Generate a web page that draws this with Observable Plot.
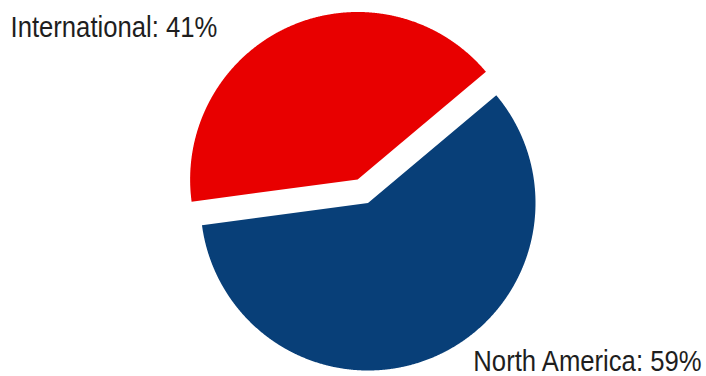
<!DOCTYPE html>
<html><head><meta charset="utf-8">
<script src="https://cdn.jsdelivr.net/npm/d3@7"></script>
<script src="https://cdn.jsdelivr.net/npm/@observablehq/plot@0.6"></script>
<style>html,body{margin:0;padding:0;background:#fff}</style>
</head><body><div id="chart"></div>
<script>
// Data
const regions = ["North America", "International"];
const shares = [59, 41];
const colors = ["#083f78", "#e80000"];
const exploded = [false, true];
const labelText = regions.map((r, i) => `${r}: ${shares[i]}%`);

// Layout
const W = 706, H = 376;
const cx = 367.5, cy = 202.5, r = 167.5;
const explodeDist = 25.7 / r;
const startDeg = 50;

const pie = d3.pie().sort(null).value(d => d.share)
  .startAngle(startDeg * Math.PI / 180)
  .endAngle(startDeg * Math.PI / 180 + 2 * Math.PI);
const arcs = pie(regions.map((name, i) => ({name, share: shares[i], exploded: exploded[i], label: labelText[i]})));

// polygon outline of each slice, derived from the pie angles
const pts = [];
for (const a of arcs) {
  const mid = (a.startAngle + a.endAngle) / 2;
  const off = a.data.exploded ? explodeDist : 0;
  const ox = off * Math.sin(mid), oy = off * Math.cos(mid);
  pts.push({name: a.data.name, x: ox, y: oy});
  const n = Math.ceil((a.endAngle - a.startAngle) / (Math.PI / 720));
  for (let k = 0; k <= n; k++) {
    const t = a.startAngle + (a.endAngle - a.startAngle) * k / n;
    pts.push({name: a.data.name, x: ox + Math.sin(t), y: oy + Math.cos(t)});
  }
  pts.push({name: a.data.name, x: ox, y: oy});
}

const font = "Liberation Sans, Arial, Helvetica, sans-serif";
const chart = Plot.plot({
  width: W, height: H, margin: 0,
  style: {fontFamily: font, background: "#fff"},
  x: {domain: [-1, 1], range: [cx - r, cx + r], axis: null},
  y: {domain: [-1, 1], range: [cy + r, cy - r], axis: null},
  color: {domain: regions, range: colors},
  marks: [
    Plot.line(pts, {x: "x", y: "y", z: "name", fill: "name", stroke: "none"}),
    Plot.text([arcs[1].data], {text: "label", frameAnchor: "top-left", lineAnchor: "bottom",
      textAnchor: "start", dx: 10, dy: 36, fontSize: 29, fill: "#1e1e1e", fontFamily: font}),
    Plot.text([arcs[0].data], {text: "label", frameAnchor: "bottom-right", lineAnchor: "bottom",
      textAnchor: "end", dx: -5, dy: -6, fontSize: 29, fill: "#1e1e1e", fontFamily: font})
  ]
});
document.getElementById("chart").appendChild(chart);
// slightly condensed lettering as in the reference (horizontal squeeze about the anchor)
chart.querySelectorAll("text").forEach(t => {
  const x0 = parseFloat(t.getAttribute("x")) || 0;
  const prev = t.getAttribute("transform") || "";
  t.setAttribute("transform", `${prev} translate(${x0},0) scale(0.885,1) translate(${-x0},0)`.trim());
});
</script>
</body></html>
